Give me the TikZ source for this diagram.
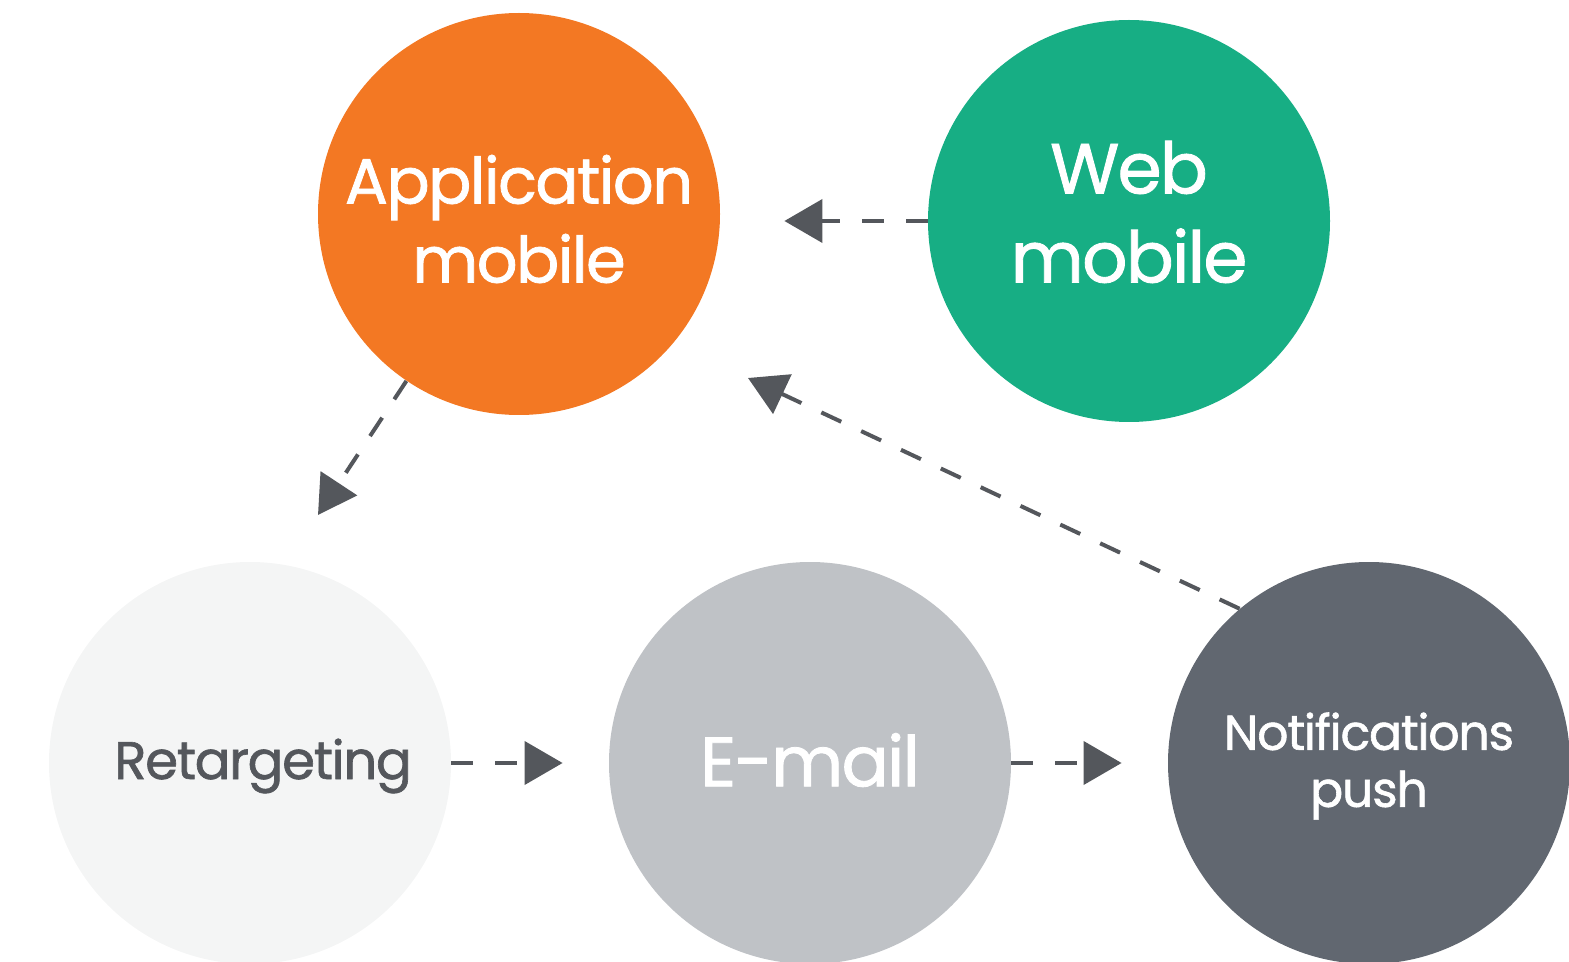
\documentclass[tikz,border=0pt]{standalone}
\usepackage{fontspec}
\setmainfont{Poppins}
\newfontfamily\chanfont{Poppins}[LetterSpace=-2.5, FakeBold=1.2]
\usetikzlibrary{arrows.meta}

\definecolor{appOrange}{HTML}{F37823}
\definecolor{webGreen}{HTML}{17AE84}
\definecolor{retargGray}{HTML}{F4F5F5}
\definecolor{mailGray}{HTML}{BFC2C6}
\definecolor{pushGray}{HTML}{616770}
\definecolor{arrowGray}{HTML}{54575C}

\tikzset{
  channel/.style={circle, minimum size=201pt, inner sep=0pt},
  chantext/.style={inner sep=0pt, align=center, text=white},
  flow/.style={arrowGray, line width=2pt, dash pattern=on 11pt off 11pt,
    -{Triangle[length=19pt, width=21.5pt]}},
}

\begin{document}
\begin{tikzpicture}[x=0.5pt, y=-0.5pt]
\useasboundingbox (0,0) rectangle (1569,962);

% channels
\node[channel, fill=appOrange] (app) at (519,214) {};
\node[channel, fill=webGreen] (web) at (1129,221) {};
\node[channel, fill=retargGray] (retarg) at (250,763) {};
\node[channel, fill=mailGray] (email) at (810,763) {};
\node[channel, fill=pushGray] (push) at (1369,763) {};

% their names
\node[chantext, font=\chanfont\fontsize{32}{39.5}\selectfont] (appLabel) at ([yshift=-2.5pt]app) {Application\\mobile};
\node[chantext, font=\chanfont\fontsize{35.5}{44.5}\selectfont] (webLabel) at ([yshift=4.5pt]web) {Web\\mobile};
\node[chantext, text=arrowGray, font=\chanfont\fontsize{26.5}{32}\selectfont] (retargLabel) at ([xshift=6.5pt, yshift=-1.5pt]retarg) {Retargeting};
\node[chantext, font=\chanfont\fontsize{35}{44}\selectfont] (emailLabel) at ([yshift=1.5pt]email) {E-mail};
\node[chantext, font=\chanfont\fontsize{24.5}{28.5}\selectfont] (pushLabel) at ([yshift=-1.5pt]push) {Notifications\\push};

% free ends of the arrows
\coordinate (appIn) at (748,378);
\coordinate (retargIn) at (318,515);

% flows between channels
\draw[flow, shorten >=32pt] (web.west) -- (web.west -| app.east);
\draw[flow] (app.236) -- (retargIn);
\draw[flow, shorten >=23pt] (retarg.east) -- (email.west);
\draw[flow, shorten >=23pt] (email.east) -- (push.west);
\draw[flow] (push.130) -- (appIn);
\end{tikzpicture}
\end{document}
